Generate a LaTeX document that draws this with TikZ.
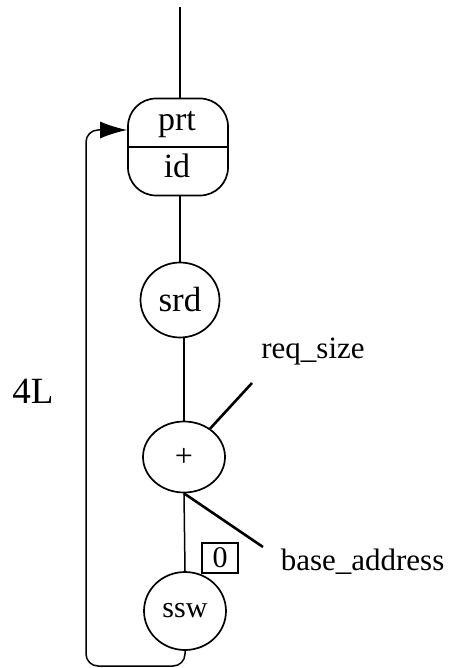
\documentclass[tikz,border=0pt]{standalone}
\usepackage{fontspec}
\setmainfont{Liberation Serif}
\usetikzlibrary{arrows.meta,shapes.geometric}
\newcommand{\fsz}[1]{\fontsize{#1}{#1}\selectfont}
\begin{document}
\begin{tikzpicture}[x=1pt,y=-1pt,line width=1.6pt,
  opnode/.style={draw,ellipse,inner sep=0pt,line width=1.7pt},
  lbl/.style={inner sep=0pt,font=\fsz{31}},
  wire/.style={line width=1.5pt},
  thick wire/.style={line width=2.6pt}]
\useasboundingbox (0,0) rectangle (454,668);
% nodes
\node[draw,line width=1.7pt,rounded corners=28pt,minimum width=100pt,minimum height=97pt,inner sep=0pt] (prt) at (178,147) {};
\node[inner sep=0pt,font=\fsz{34}] (prtlbl) at (177,125) {prt};
\node[inner sep=0pt,font=\fsz{34}] (idlbl) at (177,166) {id};
\node[opnode,minimum width=79pt,minimum height=75pt,font=\fsz{35}] (srd) at (180,300) {srd};
\node[opnode,minimum width=82pt,minimum height=71pt,font=\fsz{32}] (plus) at (184,457) {+};
\node[opnode,minimum width=82pt,minimum height=78pt,font=\fsz{30}] (ssw) at (185,611) {ssw};
\node[draw,line width=1.4pt,minimum width=36pt,minimum height=30pt,inner sep=0pt,font=\fsz{30}] (zero) at (220,558) {0};
\node[lbl] (req) at (313,352) {req\_size};
\node[lbl,anchor=west] (base) at (280,562) {base\_address};
\node[inner sep=0pt,font=\fsz{37}] (fourL) at (33,391) {4L};
% coordinates
\coordinate (top) at (180,7);
\coordinate (reqend) at (252,383);
\coordinate (baseend) at (263,547);
\coordinate (c1) at (185,666);
\coordinate (c2) at (86,666);
\coordinate (c3) at (86,130);
\coordinate (c4) at (prt.west |- c3);
% connectors
\draw[wire] (top) -- (prt.north -| top);
\draw[wire] (prt.west) -- (prt.east);
\draw[wire] (prt.south -| srd.north) -- (srd.north);
\draw[wire] (srd.south -| plus.north) -- (plus.north);
\draw[wire] (plus.south) -- (ssw.north);
\draw[thick wire] (plus) -- (reqend);
\draw[thick wire] (plus.south) -- (baseend);
\draw[wire,rounded corners=12pt,-{Latex[length=27pt,width=17pt]}] (ssw.south) -- (c1) -- (c2) -- (c3) -- (c4);
\end{tikzpicture}
\end{document}
